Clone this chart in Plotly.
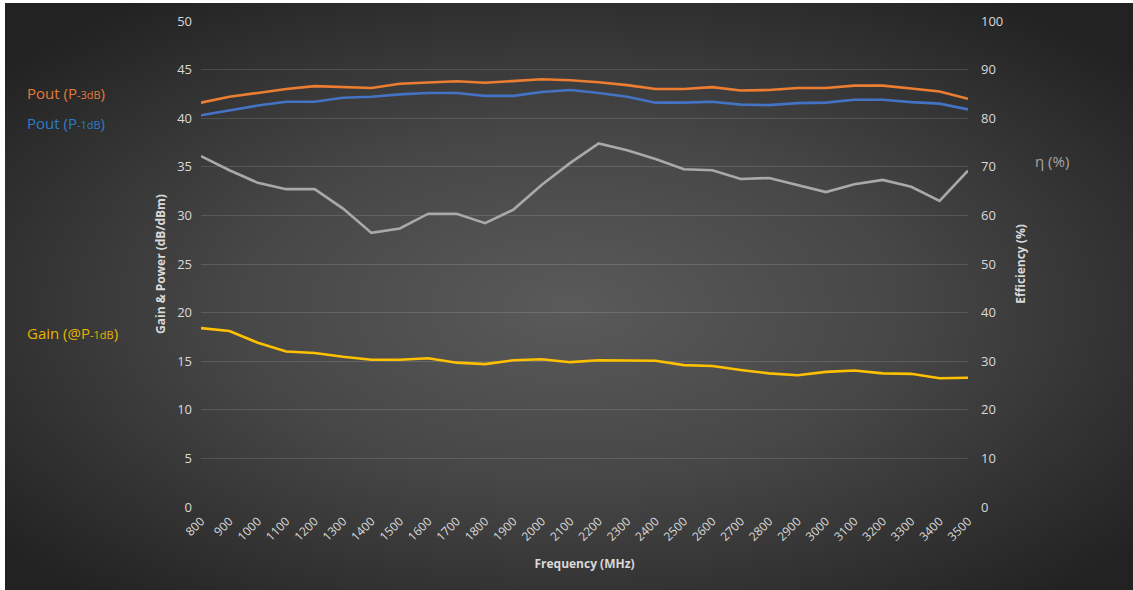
import base64
import plotly.graph_objects as go

freq = ["800", "900", "1000", "1100", "1200", "1300", "1400", "1500", "1600", "1700",
        "1800", "1900", "2000", "2100", "2200", "2300", "2400", "2500", "2600", "2700",
        "2800", "2900", "3000", "3100", "3200", "3300", "3400", "3500"]

pout_3db = [41.6, 42.2, 42.6, 43.0, 43.3, 43.2, 43.1, 43.55, 43.7, 43.8,
            43.65, 43.85, 44.0, 43.9, 43.7, 43.4, 43.0, 43.0, 43.2, 42.85,
            42.9, 43.1, 43.1, 43.35, 43.35, 43.05, 42.75, 42.0]

pout_1db = [40.3, 40.8, 41.3, 41.7, 41.7, 42.1, 42.2, 42.45, 42.6, 42.6,
            42.3, 42.3, 42.7, 42.9, 42.6, 42.2, 41.6, 41.6, 41.7, 41.4,
            41.35, 41.55, 41.6, 41.9, 41.9, 41.65, 41.5, 40.9]

efficiency = [72.2, 69.3, 66.7, 65.4, 65.4, 61.4, 56.4, 57.3, 60.35, 60.35,
              58.4, 61.2, 66.3, 70.8, 74.8, 73.4, 71.6, 69.5, 69.3, 67.5,
              67.7, 66.3, 64.8, 66.4, 67.3, 65.9, 63.0, 69.2]

gain = [18.4, 18.1, 16.9, 16.0, 15.85, 15.45, 15.15, 15.15, 15.3, 14.85,
        14.7, 15.1, 15.2, 14.9, 15.1, 15.07, 15.04, 14.6, 14.5, 14.1,
        13.75, 13.55, 13.9, 14.05, 13.75, 13.7, 13.25, 13.3]

W, H = 1133, 590
BG_W, BG_H = 1128, 587

svg = f'''<svg xmlns="http://www.w3.org/2000/svg" width="{BG_W}" height="{BG_H}" viewBox="0 0 {BG_W} {BG_H}" preserveAspectRatio="none">
<defs><radialGradient id="g" cx="50%" cy="52%" r="65%">
<stop offset="0%" stop-color="#5a5a5a"/>
<stop offset="45%" stop-color="#474747"/>
<stop offset="100%" stop-color="#222222"/>
</radialGradient></defs>
<rect x="0" y="0" width="{BG_W}" height="{BG_H}" fill="url(#g)"/>
</svg>'''
bg_src = "data:image/svg+xml;base64," + base64.b64encode(svg.encode()).decode()

tick_color = "#d9d9d9"
grid_color = "rgba(255,255,255,0.13)"
font_family = "Open Sans, Noto Sans, sans-serif"

x0, x1 = 201 / W, 968 / W
y0, y1 = (H - 507) / H, (H - 21) / H

fig = go.Figure()
line_w = 2.6
fig.add_trace(go.Scatter(x=freq, y=pout_3db, mode="lines", name="Pout (P-3dB)",
                         line=dict(color="#ED7D31", width=line_w)))
fig.add_trace(go.Scatter(x=freq, y=pout_1db, mode="lines", name="Pout (P-1dB)",
                         line=dict(color="#4472C4", width=line_w)))
fig.add_trace(go.Scatter(x=freq, y=efficiency, mode="lines", name="η (%)", yaxis="y2",
                         line=dict(color="#A9A9A9", width=line_w)))
fig.add_trace(go.Scatter(x=freq, y=gain, mode="lines", name="Gain (@P-1dB)",
                         line=dict(color="#FFC000", width=line_w)))

fig.update_layout(
    width=W, height=H,
    margin=dict(l=0, r=0, t=0, b=0, autoexpand=False),
    paper_bgcolor="white",
    plot_bgcolor="rgba(0,0,0,0)",
    showlegend=False,
    font=dict(family=font_family, color=tick_color, size=13),
    images=[dict(source=bg_src, xref="paper", yref="paper", x=5 / W, y=1 - 3 / H,
                 sizex=BG_W / W, sizey=BG_H / H, xanchor="left", yanchor="top",
                 sizing="stretch", layer="below")],
    xaxis=dict(domain=[x0, x1], type="category", showgrid=False, showline=False,
               zeroline=False, tickangle=-45, ticks="", automargin=False,
               tickfont=dict(size=12, color=tick_color), ticklabelstandoff=4,
               title=dict(text="<b>Frequency (MHz)</b>", font=dict(size=12, color=tick_color),
                          standoff=16)),
    yaxis=dict(domain=[y0, y1], range=[0, 50], dtick=5, showgrid=True, gridcolor=grid_color,
               gridwidth=1, zeroline=False, showline=False, ticks="", automargin=False,
               tickfont=dict(size=13, color=tick_color), ticklabelstandoff=8,
               title=dict(text="<b>Gain & Power (dB/dBm)</b>", font=dict(size=12, color=tick_color),
                          standoff=8)),
    yaxis2=dict(overlaying="y", side="right", range=[0, 100], dtick=10, showgrid=False,
                zeroline=False, showline=False, ticks="", automargin=False,
                tickfont=dict(size=13, color=tick_color), ticklabelstandoff=12,
                title=dict(text="<b>Efficiency (%)</b>", font=dict(size=12, color=tick_color),
                           standoff=14)),
)

small = "font-size:11px"
ann = [
    (25, 93, f"Pout (P<span style='{small}'>-3dB</span>)", "#E07B39"),
    (25, 123, f"Pout (P<span style='{small}'>-1dB</span>)", "#2E7CC6"),
    (25, 333, f"Gain (@P<span style='{small}'>-1dB</span>)", "#E6B400"),
    (1033, 161, "η (%)", "#A6A6A6"),
]
for px, py, txt, col in ann:
    fig.add_annotation(x=px / W, y=1 - py / H, xref="paper", yref="paper", text=txt,
                       showarrow=False, xanchor="left", yanchor="middle",
                       font=dict(size=15, color=col, family=font_family))

fig.write_html("out.html", config={"displayModeBar": False},
               post_script="document.body.style.margin='0';document.body.style.overflow='hidden';")
